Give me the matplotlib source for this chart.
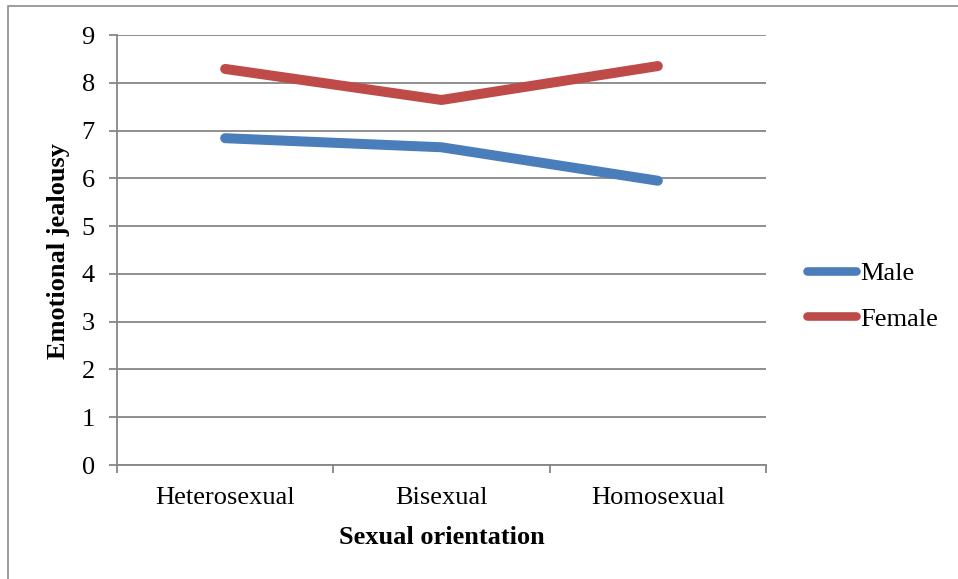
import matplotlib
matplotlib.use("Agg")
import matplotlib.pyplot as plt
from matplotlib.patches import Rectangle

categories = ["Heterosexual", "Bisexual", "Homosexual"]
male = [6.84, 6.65, 5.95]
female = [8.29, 7.64, 8.35]
y_ticks = [0, 1, 2, 3, 4, 5, 6, 7, 8, 9]

BLUE = "#4A7EBB"
RED = "#BE4B48"
GRID = "#868686"
FS = 19

plt.rcParams["font.family"] = ["Liberation Serif", "DejaVu Serif"]

W, H = 958, 579
fig = plt.figure(figsize=(W / 100, H / 100), dpi=100)
ax = fig.add_axes([117 / W, 1 - 465 / H, (766 - 117) / W, (465 - 35) / H])

# outer chart frame (open at right and bottom)
fig.add_artist(Rectangle((8 / W, -0.1), 1.2, 1 - 6 / H + 0.1,
                         transform=fig.transFigure, fill=False,
                         edgecolor="#8c8c8c", linewidth=1.2))

x = range(len(categories))
ax.plot(x, male, color=BLUE, linewidth=7.2, solid_capstyle="round",
        solid_joinstyle="round", label="Male", zorder=3)
ax.plot(x, female, color=RED, linewidth=7.2, solid_capstyle="round",
        solid_joinstyle="round", label="Female", zorder=3)

ax.set_xlim(-0.5, len(categories) - 0.5)
ax.set_ylim(0, 9)
ax.set_yticks(y_ticks)
ax.yaxis.grid(True, color=GRID, linewidth=1.3)
ax.set_axisbelow(True)

ax.set_xticks(list(x))
ax.set_xticklabels(categories, fontsize=FS)
ax.set_xticks([-0.5, 0.5, 1.5, 2.5], minor=True)
ax.tick_params(axis="x", which="major", length=0, pad=16)
ax.tick_params(axis="x", which="minor", length=6, width=1.3, color=GRID, direction="out")
ax.tick_params(axis="y", length=6, width=1.3, color=GRID, direction="out",
               labelsize=FS, pad=10)

for s in ("top", "right"):
    ax.spines[s].set_visible(False)
for s in ("left", "bottom"):
    ax.spines[s].set_color(GRID)
    ax.spines[s].set_linewidth(1.3)

ax.set_xlabel("Sexual orientation", fontsize=FS, fontweight="bold")
ax.xaxis.set_label_coords(0.5, -0.142)
ax.set_ylabel("Emotional jealousy", fontsize=19, fontweight="bold")
ax.yaxis.set_label_coords(-0.072, 0.497)

leg = ax.legend(loc="center left", bbox_to_anchor=(807 / W, 1 - 296 / H),
                bbox_transform=fig.transFigure, frameon=False, fontsize=FS,
                handlelength=1.85, handletextpad=0.18, labelspacing=0.85,
                borderpad=0, borderaxespad=0)
for line in leg.get_lines():
    line.set_linewidth(6.2)
    line.set_solid_capstyle("round")

fig.savefig("out.png", dpi=100)
